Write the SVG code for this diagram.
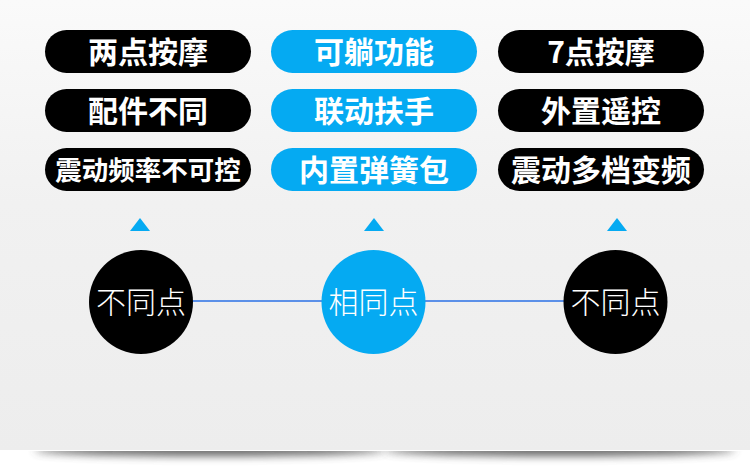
<svg xmlns="http://www.w3.org/2000/svg" width="750" height="475" viewBox="0 0 750 475">
  <defs>
    <linearGradient id="bg" x1="0" y1="0" x2="0" y2="1">
      <stop offset="0" stop-color="#fafafa"/>
      <stop offset="0.45" stop-color="#f1f1f1"/>
      <stop offset="1" stop-color="#ededed"/>
    </linearGradient>
    <filter id="blur6" x="-20%" y="-300%" width="140%" height="700%">
      <feGaussianBlur stdDeviation="5 4"/>
    </filter>
    <filter id="blur2" x="-10%" y="-200%" width="120%" height="500%">
      <feGaussianBlur stdDeviation="2"/>
    </filter>
    <clipPath id="below">
      <rect x="0" y="451" width="750" height="24"/>
    </clipPath>
    <clipPath id="above">
      <rect x="0" y="0" width="750" height="20"/>
    </clipPath>
    <style>
      .pill-black { fill: #000000; }
      .pill-blue { fill: #05aaf2; }
      .pill-text { font-family: "Noto Sans CJK SC", "Noto Sans", sans-serif; font-weight: 700; fill: #ffffff; text-anchor: middle; }
      .circ-text { font-family: "Noto Sans CJK SC", "Noto Sans", sans-serif; font-weight: 300; font-size: 30px; fill: #ffffff; text-anchor: middle; }
      .tri { fill: #05aaf2; }
    </style>
  </defs>

  <!-- background -->
  <rect x="0" y="0" width="750" height="475" fill="#ffffff"/>
  <rect x="0" y="0" width="750" height="451" fill="url(#bg)"/>
  <line x1="0" y1="450.5" x2="750" y2="450.5" stroke="#ffffff" stroke-width="1"/>

  <!-- top shadows -->
  <g clip-path="url(#above)">
    <rect x="12" y="-20" width="342" height="20" rx="10" fill="#6a6a6a" filter="url(#blur2)"/>
    <rect x="402" y="-20" width="342" height="20" rx="10" fill="#6a6a6a" filter="url(#blur2)"/>
  </g>

  <!-- bottom shadows -->
  <g clip-path="url(#below)">
    <ellipse cx="210" cy="450" rx="175" ry="6" fill="#4a4a4a" opacity="0.85" filter="url(#blur6)"/>
    <ellipse cx="560" cy="450" rx="175" ry="6" fill="#4a4a4a" opacity="0.85" filter="url(#blur6)"/>
  </g>

  <!-- connectors -->
  <g id="connectors">
    <line x1="192" y1="301" x2="565" y2="301" stroke="#2a70e6" stroke-width="1.5"/>
  </g>

  <!-- left column pills -->
  <g id="pill-l1">
    <rect class="pill-black" x="45" y="30" width="206" height="43" rx="21.5"/>
    <text class="pill-text" x="148" y="63" font-size="30">两点按摩</text>
  </g>
  <g id="pill-l2">
    <rect class="pill-black" x="45" y="89" width="206" height="43" rx="21.5"/>
    <text class="pill-text" x="148" y="122" font-size="30">配件不同</text>
  </g>
  <g id="pill-l3">
    <rect class="pill-black" x="45" y="148" width="206" height="43" rx="21.5"/>
    <text class="pill-text" x="148" y="180" font-size="26.5">震动频率不可控</text>
  </g>

  <!-- middle column pills -->
  <g id="pill-m1">
    <rect class="pill-blue" x="271" y="30" width="206" height="43" rx="21.5"/>
    <text class="pill-text" x="374" y="63" font-size="30">可躺功能</text>
  </g>
  <g id="pill-m2">
    <rect class="pill-blue" x="271" y="89" width="206" height="43" rx="21.5"/>
    <text class="pill-text" x="374" y="122" font-size="30">联动扶手</text>
  </g>
  <g id="pill-m3">
    <rect class="pill-blue" x="271" y="148" width="206" height="43" rx="21.5"/>
    <text class="pill-text" x="374" y="181" font-size="30">内置弹簧包</text>
  </g>

  <!-- right column pills -->
  <g id="pill-r1">
    <rect class="pill-black" x="498" y="30" width="206" height="43" rx="21.5"/>
    <text class="pill-text" x="601" y="63" font-size="30">7点按摩</text>
  </g>
  <g id="pill-r2">
    <rect class="pill-black" x="498" y="89" width="206" height="43" rx="21.5"/>
    <text class="pill-text" x="601" y="122" font-size="30">外置遥控</text>
  </g>
  <g id="pill-r3">
    <rect class="pill-black" x="498" y="148" width="206" height="43" rx="21.5"/>
    <text class="pill-text" x="601" y="181" font-size="30">震动多档变频</text>
  </g>

  <!-- triangles -->
  <g id="tri-left"><polygon class="tri" points="140,218 150,231 130,231"/></g>
  <g id="tri-mid"><polygon class="tri" points="374,218 384,231 364,231"/></g>
  <g id="tri-right"><polygon class="tri" points="617,218 627,231 607,231"/></g>

  <!-- circles -->
  <g id="circle-left">
    <circle cx="141" cy="302" r="52" fill="#000000"/>
    <text class="circ-text" x="141" y="313">不同点</text>
  </g>
  <g id="circle-mid">
    <circle cx="373.5" cy="302" r="52" fill="#05aaf2"/>
    <text class="circ-text" x="373.5" y="313">相同点</text>
  </g>
  <g id="circle-right">
    <circle cx="615.5" cy="302" r="52" fill="#000000"/>
    <text class="circ-text" x="615.5" y="313">不同点</text>
  </g>
</svg>
